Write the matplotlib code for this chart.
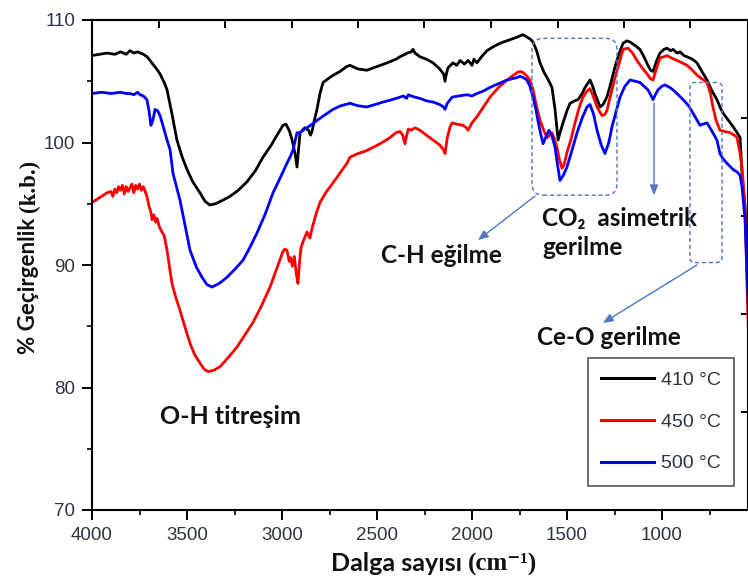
import matplotlib
matplotlib.use("Agg")
import matplotlib.pyplot as plt
from matplotlib.patches import FancyBboxPatch
from matplotlib.transforms import IdentityTransform

# ---- spectra: wavenumber (cm^-1) and transmittance (%) ----
wn_410 = [4000, 3960, 3920, 3880, 3850, 3820, 3800, 3780, 3760, 3730, 3710, 3690, 3660, 3642, 3620, 3605,
          3580, 3553, 3525, 3500, 3470, 3432, 3405, 3380, 3350, 3310, 3274, 3230, 3184, 3140, 3100, 3060,
          3030, 2995, 2979, 2960, 2947, 2930, 2921, 2912, 2905, 2880, 2860, 2850, 2842, 2830, 2816, 2800,
          2784, 2740, 2695, 2660, 2642, 2600, 2553, 2500, 2447, 2400, 2379, 2340, 2320, 2310, 2300, 2274,
          2240, 2205, 2170, 2150, 2142, 2135, 2126, 2100, 2080, 2063, 2040, 2020, 2000, 1990, 1974, 1950,
          1921, 1890, 1853, 1800, 1763, 1732, 1710, 1690, 1679, 1660, 1642, 1620, 1605, 1579, 1563, 1547,
          1535, 1521, 1500, 1484, 1460, 1442, 1420, 1405, 1379, 1365, 1353, 1326, 1310, 1290, 1270, 1247,
          1225, 1205, 1185, 1168, 1140, 1116, 1095, 1074, 1060, 1047, 1030, 1011, 990, 974, 955, 942,
          920, 905, 885, 868, 840, 816, 790, 763, 740, 711, 695, 679, 650, 626, 605, 589, 579, 563,
          553, 546]
t_410 = [107.1, 107.2, 107.3, 107.2, 107.4, 107.2, 107.5, 107.3, 107.4, 107.2, 107.0, 106.6, 106.0, 105.6, 104.9, 104.3,
         102.4, 100.2, 98.8, 97.8, 96.8, 95.9, 95.2, 94.9, 95.0, 95.3, 95.6, 96.1, 96.8, 97.7, 98.8, 99.7,
         100.5, 101.4, 101.5, 100.9, 100.2, 99.0, 98.0, 99.6, 100.8, 101.2, 101.0, 100.6, 100.9, 101.8, 102.7, 104.0,
         104.9, 105.4, 105.8, 106.2, 106.3, 106.0, 105.9, 106.2, 106.5, 106.8, 107.0, 107.3, 107.4, 107.6, 107.3, 107.0,
         106.8, 106.5, 106.0, 105.6, 105.0, 105.6, 106.1, 106.5, 106.3, 106.7, 106.4, 106.7, 106.3, 106.8, 106.5, 107.0,
         107.5, 107.8, 108.1, 108.4, 108.6, 108.8, 108.6, 108.4, 108.2, 107.5, 106.5, 105.7, 105.3, 104.5, 102.7, 100.2,
         100.9, 101.6, 102.6, 103.2, 103.4, 103.5, 104.0, 104.5, 105.1, 104.6, 104.0, 102.9, 103.1, 103.7, 104.8, 106.2,
         107.3, 108.1, 108.3, 108.2, 107.9, 107.6, 107.0, 106.3, 105.9, 105.8, 106.6, 107.3, 107.6, 107.7, 107.5, 107.6,
         107.3, 107.4, 107.1, 107.0, 106.8, 106.5, 105.8, 105.1, 104.3, 103.5, 102.9, 102.4, 101.8, 101.3, 100.8, 100.4, 97.5, 94.7,
         91.0, 88.5]

wn_450 = [4000, 3980, 3960, 3940, 3920, 3900, 3890, 3880, 3870, 3860, 3850, 3840, 3830, 3820, 3810, 3800,
          3790, 3780, 3770, 3760, 3750, 3740, 3730, 3720, 3711, 3700, 3690, 3684, 3675, 3665, 3658, 3645,
          3632, 3620, 3605, 3590, 3579, 3560, 3537, 3510, 3484, 3460, 3432, 3410, 3389, 3360, 3326, 3280,
          3237, 3195, 3153, 3110, 3063, 3030, 2995, 2985, 2974, 2962, 2955, 2945, 2935, 2925, 2916, 2908,
          2900, 2887, 2868, 2853, 2840, 2820, 2800, 2770, 2732, 2695, 2658, 2642, 2600, 2560, 2521, 2484,
          2440, 2400, 2379, 2365, 2353, 2345, 2335, 2320, 2300, 2274, 2240, 2205, 2170, 2150, 2142, 2130,
          2115, 2105, 2080, 2047, 2030, 2021, 2000, 1974, 1940, 1905, 1860, 1816, 1790, 1763, 1747, 1730,
          1710, 1695, 1680, 1668, 1655, 1642, 1620, 1605, 1590, 1579, 1565, 1553, 1540, 1526, 1515, 1500,
          1480, 1458, 1435, 1416, 1395, 1379, 1360, 1342, 1316, 1300, 1290, 1270, 1247, 1225, 1205, 1179,
          1155, 1132, 1105, 1079, 1060, 1047, 1030, 1011, 990, 974, 950, 921, 895, 868, 840, 816,
          790, 763, 745, 732, 715, 695, 670, 642, 620, 605, 589, 579, 563, 553, 546]
t_450 = [95.1, 95.3, 95.5, 95.7, 95.9, 96.0, 95.6, 96.2, 95.9, 96.4, 96.1, 96.5, 95.8, 96.4, 96.0, 96.3,
         96.6, 95.9, 96.5, 96.2, 96.6, 96.1, 96.4, 96.0, 95.6, 94.8, 94.3, 93.7, 94.1, 93.5, 93.8, 93.1,
         92.7, 92.4, 91.2, 89.6, 88.5, 87.4, 86.3, 84.9, 83.6, 82.7, 82.0, 81.5, 81.3, 81.4, 81.7, 82.5,
         83.3, 84.3, 85.3, 86.6, 88.2, 89.6, 91.1, 91.3, 91.2, 90.3, 90.6, 89.9, 90.7, 89.3, 88.5, 90.2,
         91.4, 92.0, 92.7, 92.2, 93.1, 94.2, 95.1, 95.9, 96.7, 97.5, 98.3, 98.8, 99.1, 99.3, 99.6, 99.9,
         100.3, 100.8, 100.9, 100.6, 99.9, 100.5, 101.1, 101.0, 101.2, 101.0, 100.6, 100.2, 99.8, 99.4, 99.1, 100.4,
         101.3, 101.6, 101.5, 101.4, 101.2, 101.0, 101.6, 102.1, 102.9, 103.7, 104.5, 105.1, 105.4, 105.7, 105.8, 105.7,
         105.4, 105.1, 104.4, 103.5, 102.6, 101.8, 100.9, 100.4, 100.6, 100.8, 100.2, 99.6, 98.6, 97.9, 98.2, 99.2,
         100.2, 101.6, 102.9, 103.7, 104.2, 104.4, 103.7, 102.9, 102.2, 102.3, 102.6, 103.9, 105.3, 106.5, 107.6, 107.7,
         107.3, 106.7, 106.1, 105.6, 105.2, 105.1, 106.0, 106.9, 107.0, 107.1, 106.9, 106.7, 106.5, 106.3, 105.9, 105.5,
         105.2, 104.9, 104.0, 102.9, 101.8, 101.0, 100.9, 100.8, 100.6, 100.4, 99.1, 98.0, 94.7, 88.5, 85.0]

wn_500 = [4000, 3950, 3900, 3850, 3820, 3800, 3780, 3760, 3747, 3730, 3711, 3700, 3690, 3680, 3668, 3655,
          3642, 3625, 3605, 3589, 3574, 3537, 3510, 3484, 3450, 3421, 3395, 3368, 3330, 3289, 3245, 3205,
          3170, 3132, 3090, 3047, 3010, 2974, 2955, 2942, 2930, 2921, 2905, 2880, 2850, 2816, 2770, 2732,
          2690, 2642, 2600, 2553, 2510, 2468, 2420, 2379, 2360, 2345, 2335, 2320, 2300, 2274, 2240, 2205,
          2170, 2150, 2142, 2130, 2105, 2070, 2026, 2000, 1974, 1940, 1905, 1860, 1816, 1790, 1763, 1747,
          1730, 1711, 1695, 1679, 1665, 1653, 1640, 1626, 1610, 1595, 1580, 1563, 1550, 1537, 1520, 1500,
          1475, 1447, 1420, 1395, 1379, 1360, 1342, 1320, 1300, 1280, 1263, 1240, 1221, 1195, 1168, 1140,
          1116, 1095, 1074, 1060, 1047, 1035, 1021, 1000, 984, 960, 942, 915, 889, 860, 837, 815,
          800, 785, 763, 740, 711, 695, 680, 658, 626, 605, 589, 579, 563, 553, 546]
t_500 = [104.0, 104.1, 104.0, 104.1, 104.0, 104.0, 103.9, 104.1, 103.9, 103.8, 103.5, 102.6, 101.4, 101.8, 102.7, 102.6,
         102.2, 101.3, 100.2, 99.4, 97.5, 95.3, 93.2, 91.2, 89.8, 89.0, 88.4, 88.2, 88.5, 89.0, 89.7, 90.4,
         91.4, 92.6, 94.1, 95.9, 97.1, 98.3, 98.9, 99.4, 100.2, 100.8, 100.8, 101.1, 101.4, 101.8, 102.3, 102.7,
         103.0, 103.2, 103.0, 102.9, 103.1, 103.3, 103.5, 103.7, 103.8, 103.6, 103.9, 103.8, 103.7, 103.6, 103.4, 103.3,
         103.1, 102.9, 102.7, 103.2, 103.7, 103.8, 103.9, 103.8, 104.0, 104.2, 104.5, 104.8, 105.1, 105.2, 105.3, 105.4,
         105.3, 105.1, 104.6, 103.7, 102.8, 101.8, 100.8, 99.9, 100.5, 101.0, 100.6, 99.6, 98.2, 96.9, 97.3, 98.0,
         99.3, 100.8, 102.0, 102.9, 103.1, 102.3, 101.0, 99.8, 99.1, 100.0, 101.3, 102.6, 103.7, 104.6, 105.1, 105.0,
         104.9, 104.6, 104.3, 103.9, 103.5, 103.9, 104.3, 104.6, 104.7, 104.5, 104.3, 103.9, 103.5, 103.0, 102.4, 101.8,
         101.4, 101.5, 101.6, 101.0, 100.2, 99.1, 98.7, 98.3, 97.8, 97.6, 97.3, 96.4, 93.7, 89.6, 87.0]

labels = ["410 °C", "450 °C", "500 °C"]
colors = ["#000000", "#ff0000", "#0000ff"]

x_major = [4000, 3500, 3000, 2500, 2000, 1500, 1000]
x_minor = [3750, 3250, 2750, 2250, 1750, 1250, 750]
y_major = [70, 80, 90, 100, 110]
y_minor = [75, 85, 95, 105]
top_ticks = [4000, 3650, 3300, 2950, 2600, 2250, 1900, 1550, 1200, 850]
right_ticks = [70, 78, 86, 94, 102, 110]

XLIM = (4000, 545)
YLIM = (70, 110)

W, H = 748, 578
fig = plt.figure(figsize=(W / 100, H / 100), dpi=100)
ax = fig.add_axes([92 / W, 68 / H, 656.45 / W, 490 / H])

for wn, t, c, lab in zip([wn_410, wn_450, wn_500], [t_410, t_450, t_500], colors, labels):
    ax.plot(wn, t, color=c, lw=2.0, label=lab, solid_joinstyle="round")

ax.set_xlim(*XLIM)
ax.set_ylim(*YLIM)
ax.set_xticks(x_major)
ax.set_xticks(x_minor, minor=True)
ax.set_yticks(y_major)
ax.set_yticks(y_minor, minor=True)

tick_color = "#2e3542"
ax.tick_params(axis="both", which="major", direction="out", length=7, width=1.4,
               labelsize=13.5, labelcolor=tick_color, pad=5, top=False, right=False)
ax.tick_params(axis="both", which="minor", direction="out", length=3.5, width=1.2,
               top=False, right=False)
for lab in ax.get_xticklabels() + ax.get_yticklabels():
    lab.set_family(["Liberation Sans", "DejaVu Sans"])

for s in ["left", "bottom", "top", "right"]:
    ax.spines[s].set_linewidth(1.5)

sec_top = ax.secondary_xaxis("top")
sec_top.set_xticks(top_ticks)
sec_top.tick_params(direction="in", length=6, width=1.4, labeltop=False)
sec_top.spines["top"].set_linewidth(1.5)
sec_right = ax.secondary_yaxis("right")
sec_right.set_yticks(right_ticks)
sec_right.tick_params(direction="in", length=5, width=1.4, labelright=False)

bold = dict(family=["Lato", "DejaVu Sans"], weight="bold", color="#111111")
serif_bold = dict(family=["Liberation Serif", "DejaVu Serif"], weight="bold", color="#111111")

# axis titles: sans part + serif unit part, sharing one baseline
fig.text(35 / W, 1 - 212 / H, "% Geçirgenlik ", rotation=90, rotation_mode="anchor",
         ha="right", va="baseline", fontsize=16, **bold)
fig.text(35 / W, 1 - 212 / H, "(k.b.)", rotation=90, rotation_mode="anchor",
         ha="left", va="baseline", fontsize=16.5, **serif_bold)
fig.text(468 / W, 7 / H, "Dalga sayısı ", ha="right", va="baseline", fontsize=18, **bold)
fig.text(468 / W, 7 / H, "(cm⁻¹)", ha="left", va="baseline", fontsize=18, **serif_bold)

leg = ax.legend(loc="upper left", bbox_to_anchor=(0.7556, 0.3102), borderaxespad=0,
                fancybox=False, edgecolor="#555555", framealpha=1,
                handlelength=2.73, handletextpad=0.36, labelspacing=1.25, borderpad=0.67,
                prop={"family": ["Liberation Sans", "DejaVu Sans"], "size": 14})
leg.get_frame().set_linewidth(1.2)
for txt in leg.get_texts():
    txt.set_color(tick_color)
for ln in leg.get_lines():
    ln.set_linewidth(2.2)

# ---- band annotations ----
ann_color = "#4d79c0"
ax.text(3274, 77.6, "O-H titreşim", ha="center", va="center", fontsize=18, **bold)
ax.text(2163, 90.8, "C-H eğilme", ha="center", va="center", fontsize=17.5, **bold)
ax.text(1632, 94.75, "CO₂  asimetrik\ngerilme", ha="left", va="top", fontsize=17.5,
        linespacing=1.35, **bold)
ax.text(1279, 84.1, "Ce-O gerilme", ha="center", va="center", fontsize=17.5, **bold)

fig.canvas.draw()


def dashed_box(x0, y0, x1, y1, radius):
    (px0, py0) = ax.transData.transform((x0, y0))
    (px1, py1) = ax.transData.transform((x1, y1))
    lx, rx = min(px0, px1), max(px0, px1)
    by, ty = min(py0, py1), max(py0, py1)
    p = FancyBboxPatch((lx, by), rx - lx, ty - by,
                       boxstyle=f"round,pad=0,rounding_size={radius}",
                       transform=IdentityTransform(), fill=False,
                       edgecolor=ann_color, lw=1.0, ls=(0, (3, 2)), zorder=5)
    fig.add_artist(p)


dashed_box(1684, 108.5, 1237, 95.7, 11)
dashed_box(853, 104.9, 684, 90.2, 5)

arrow = dict(arrowstyle="-|>,head_length=0.6,head_width=0.25", color=ann_color, lw=1.0,
             shrinkA=0, shrinkB=0)
ax.annotate("", xy=(1968, 92.04), xytext=(1668, 95.63), arrowprops=arrow)
ax.annotate("", xy=(1042, 95.7), xytext=(1042, 103.2), arrowprops=arrow)
ax.annotate("", xy=(1311, 85.27), xytext=(816, 90.0), arrowprops=arrow)

fig.savefig("out.png", dpi=100)
